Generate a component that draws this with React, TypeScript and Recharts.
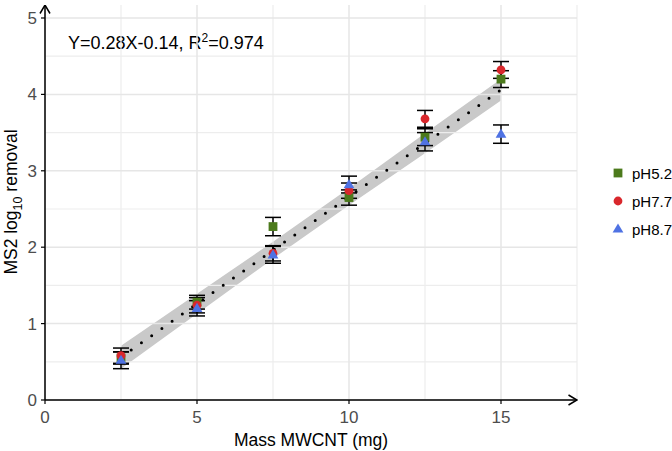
import {
  Area,
  ComposedChart,
  ErrorBar,
  Line,
  ReferenceLine,
  Scatter,
  XAxis,
  YAxis,
} from 'recharts'

const massMg = [2.5, 5, 7.5, 10, 12.5, 15]
const ph52 = [0.55, 1.28, 2.27, 2.65, 3.44, 4.2]
const ph52Err = [0.08, 0.09, 0.12, 0.1, 0.11, 0.11]
const ph77 = [0.58, 1.24, 1.92, 2.74, 3.68, 4.32]
const ph77Err = [0.1, 0.1, 0.1, 0.1, 0.11, 0.11]
const ph87 = [0.52, 1.2, 1.9, 2.82, 3.38, 3.48]
const ph87Err = [0.11, 0.1, 0.11, 0.11, 0.12, 0.12]

// fitted line Y=0.28X-0.14 and its confidence band
const fitValues = [0.56, 1.26, 1.96, 2.66, 3.36, 4.06]
const bandLow = [0.41, 1.13, 1.85, 2.55, 3.23, 3.92]
const bandHigh = [0.71, 1.39, 2.07, 2.77, 3.49, 4.2]

const xTicks = [0, 5, 10, 15]
const yTicks = [0, 1, 2, 3, 4, 5]
const xMinorGrid = [2.5, 7.5, 12.5, 17.5]
const yMinorGrid = [0.5, 1.5, 2.5, 3.5, 4.5]

const seriesNames = ['pH5.2', 'pH7.7', 'pH8.7']
const seriesColors = ['#4c7a1c', '#d9272c', '#4f72e3']

const fitData = massMg.map((x, i) => ({
  x,
  fit: fitValues[i],
  band: [bandLow[i], bandHigh[i]],
}))

const makeSeries = (vals: number[], errs: number[]) =>
  massMg.map((x, i) => ({ x, y: vals[i], err: errs[i] }))

const series = [
  makeSeries(ph52, ph52Err),
  makeSeries(ph77, ph77Err),
  makeSeries(ph87, ph87Err),
]

const font = '"Liberation Sans", Arial, sans-serif'

function Marker({ kind, cx, cy, color }: { kind: number; cx: number; cy: number; color: string }) {
  if (kind === 0) return <rect x={cx - 4.4} y={cy - 4.4} width={8.8} height={8.8} fill={color} />
  if (kind === 1) return <circle cx={cx} cy={cy} r={4.4} fill={color} />
  return <polygon points={`${cx},${cy - 5.6} ${cx + 5.4},${cy + 3.6} ${cx - 5.4},${cy + 3.6}`} fill={color} />
}

function LegendBox() {
  return (
    <div style={{ position: 'absolute', left: 610, top: 159, fontFamily: font, fontSize: 15 }}>
      {seriesNames.map((name, i) => (
        <div key={name} style={{ display: 'flex', alignItems: 'center', height: 28 }}>
          <svg width={16} height={16}>
            <Marker kind={i} cx={8} cy={8} color={seriesColors[i]} />
          </svg>
          <span style={{ marginLeft: 6, color: '#000' }}>{name}</span>
        </div>
      ))}
    </div>
  )
}

const tickStyle = { fontSize: 17, fill: '#4d4d4d', fontFamily: font }

export default function App() {
  return (
    <div style={{ position: 'relative', width: 672, height: 451, background: '#fff' }}>
      <style>{'body{margin:0}'}</style>
      <ComposedChart
        width={672}
        height={451}
        data={fitData}
        margin={{ top: 5, right: 95, left: 0, bottom: 0 }}
      >
        <defs>
          <marker
            id="axisArrow"
            viewBox="0 0 10 12"
            refX="9.5"
            refY="6"
            markerWidth="10"
            markerHeight="12"
            markerUnits="userSpaceOnUse"
            orient="auto-start-reverse"
          >
            <path d="M1,1 L9.5,6 L1,11" fill="none" stroke="#000" strokeWidth={1.5} />
          </marker>
        </defs>
        {xMinorGrid.map((v) => (
          <ReferenceLine key={'xm' + v} x={v} stroke="#ededed" strokeWidth={1.2} />
        ))}
        {yMinorGrid.map((v) => (
          <ReferenceLine key={'ym' + v} y={v} stroke="#ededed" strokeWidth={1.2} />
        ))}
        {xTicks.map((v) => (
          <ReferenceLine key={'x' + v} x={v} stroke="#e6e6e6" strokeWidth={1.5} />
        ))}
        {yTicks.map((v) => (
          <ReferenceLine key={'y' + v} y={v} stroke="#e6e6e6" strokeWidth={1.5} />
        ))}
        <XAxis
          type="number"
          dataKey="x"
          domain={[0, 17.5]}
          ticks={xTicks}
          allowDataOverflow
          height={51}
          tickSize={4}
          tickMargin={7}
          tick={tickStyle}
          tickLine={{ stroke: '#000', strokeWidth: 1.2 }}
          axisLine={{ stroke: '#000', strokeWidth: 1.5, markerEnd: 'url(#axisArrow)' }}
        />
        <YAxis
          type="number"
          dataKey="y"
          domain={[0, 5.17]}
          ticks={yTicks}
          allowDataOverflow
          width={45}
          tickSize={4}
          tickMargin={4}
          tick={tickStyle}
          tickLine={{ stroke: '#000', strokeWidth: 1.2 }}
          axisLine={{ stroke: '#000', strokeWidth: 1.5, markerStart: 'url(#axisArrow)' }}
        />
        <Area
          dataKey="band"
          type="linear"
          stroke="none"
          fill="#c9c9c9"
          fillOpacity={1}
          isAnimationActive={false}
        />
        <Line
          dataKey="fit"
          type="linear"
          stroke="#000"
          strokeWidth={3}
          strokeDasharray="0 12.5"
          strokeLinecap="round"
          dot={false}
          isAnimationActive={false}
        />
        {series.map((d, i) => (
          <Scatter
            key={seriesNames[i]}
            name={seriesNames[i]}
            data={d}
            fill={seriesColors[i]}
            isAnimationActive={false}
            shape={(p: any) => <Marker kind={i} cx={p.cx} cy={p.cy} color={seriesColors[i]} />}
          >
            <ErrorBar dataKey="err" direction="y" width={8} stroke="#000" strokeWidth={1.5} />
          </Scatter>
        ))}
        <text x={68} y={48.5} fontSize={18} fontFamily={font} fill="#000">
          <tspan>Y=0.28X-0.14, R</tspan>
          <tspan dy={-7} fontSize={12}>2</tspan>
          <tspan dy={7}>=0.974</tspan>
        </text>
        <text x={311} y={446} textAnchor="middle" fontSize={17.5} fontFamily={font} fill="#000">
          Mass MWCNT (mg)
        </text>
        <text
          transform="translate(17,202) rotate(-90)"
          textAnchor="middle"
          fontSize={17.5}
          fontFamily={font}
          fill="#000"
        >
          <tspan>MS2 log</tspan>
          <tspan dy={5} fontSize={12.5}>10</tspan>
          <tspan dy={-5}> removal</tspan>
        </text>
      </ComposedChart>
      <LegendBox />
    </div>
  )
}
